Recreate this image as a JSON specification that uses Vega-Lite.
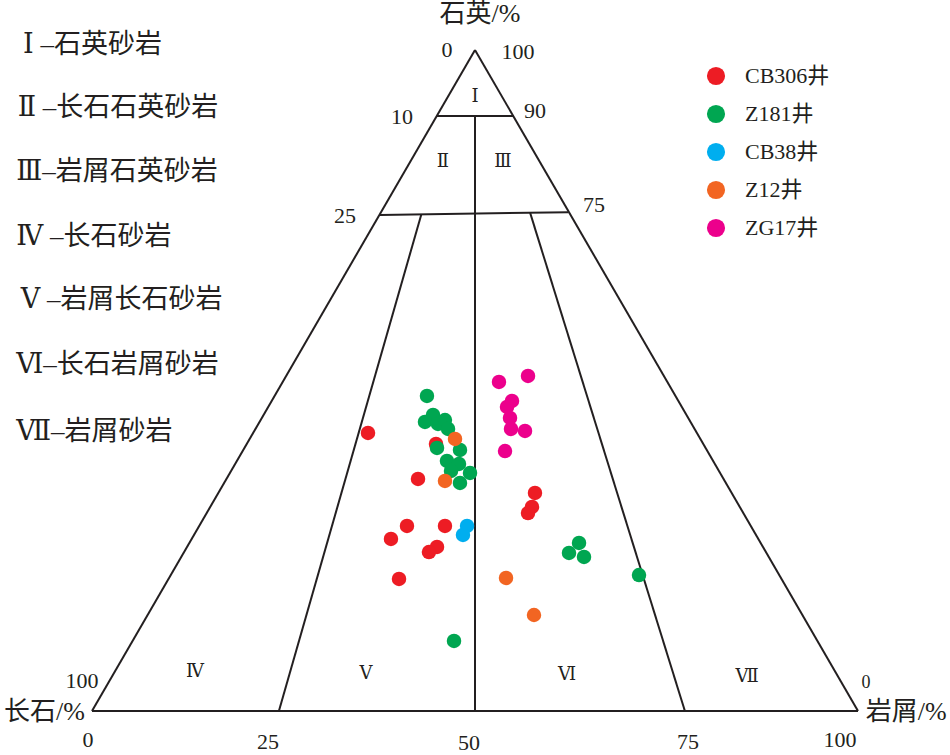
{
  "$schema": "https://vega.github.io/schema/vega-lite/v6.json",
  "width": 950,
  "height": 755,
  "autosize": "none",
  "padding": 0,
  "background": "white",
  "config": {"view": {"stroke": null}},
  "datasets": {
    "lines": [
      {"x": 0, "y": 0, "x2": 100, "y2": 0},
      {"x": 0, "y": 0, "x2": 50, "y2": 100},
      {"x": 100, "y": 0, "x2": 50, "y2": 100},
      {"x": 45, "y": 90, "x2": 55, "y2": 90},
      {"x": 37.6, "y": 75.05, "x2": 62.2, "y2": 75.45},
      {"x": 50, "y": 90, "x2": 50, "y2": 0},
      {"x": 43.0, "y": 75.15, "x2": 24.4, "y2": 0},
      {"x": 57.2, "y": 75.35, "x2": 77.4, "y2": 0}
    ],
    "points": [
      {"well": "CB306井", "x": 36.03, "y": 42.06},
      {"well": "CB306井", "x": 44.91, "y": 40.39},
      {"well": "CB306井", "x": 42.56, "y": 35.10},
      {"well": "CB306井", "x": 57.83, "y": 32.98},
      {"well": "CB306井", "x": 57.44, "y": 30.86},
      {"well": "CB306井", "x": 56.92, "y": 29.95},
      {"well": "CB306井", "x": 41.12, "y": 27.99},
      {"well": "CB306井", "x": 46.08, "y": 27.99},
      {"well": "CB306井", "x": 39.03, "y": 26.02},
      {"well": "CB306井", "x": 45.04, "y": 24.81},
      {"well": "CB306井", "x": 43.99, "y": 24.05},
      {"well": "CB306井", "x": 40.08, "y": 19.97},
      {"well": "Z181井", "x": 43.73, "y": 47.66},
      {"well": "Z181井", "x": 44.52, "y": 44.78},
      {"well": "Z181井", "x": 43.47, "y": 43.72},
      {"well": "Z181井", "x": 45.17, "y": 43.42},
      {"well": "Z181井", "x": 46.08, "y": 44.02},
      {"well": "Z181井", "x": 46.48, "y": 42.66},
      {"well": "Z181井", "x": 45.04, "y": 39.79},
      {"well": "Z181井", "x": 48.04, "y": 39.49},
      {"well": "Z181井", "x": 46.34, "y": 37.82},
      {"well": "Z181井", "x": 47.91, "y": 37.37},
      {"well": "Z181井", "x": 49.35, "y": 36.01},
      {"well": "Z181井", "x": 46.87, "y": 36.31},
      {"well": "Z181井", "x": 48.04, "y": 34.49},
      {"well": "Z181井", "x": 63.58, "y": 25.42},
      {"well": "Z181井", "x": 62.27, "y": 23.90},
      {"well": "Z181井", "x": 64.23, "y": 23.30},
      {"well": "Z181井", "x": 71.41, "y": 20.57},
      {"well": "Z181井", "x": 47.26, "y": 10.59},
      {"well": "CB38井", "x": 48.96, "y": 27.99},
      {"well": "CB38井", "x": 48.43, "y": 26.63},
      {"well": "Z12井", "x": 47.39, "y": 41.15},
      {"well": "Z12井", "x": 46.08, "y": 34.80},
      {"well": "Z12井", "x": 54.05, "y": 20.12},
      {"well": "Z12井", "x": 57.70, "y": 14.52},
      {"well": "ZG17井", "x": 53.13, "y": 49.77},
      {"well": "ZG17井", "x": 56.92, "y": 50.68},
      {"well": "ZG17井", "x": 54.83, "y": 46.90},
      {"well": "ZG17井", "x": 54.18, "y": 45.99},
      {"well": "ZG17井", "x": 54.57, "y": 44.33},
      {"well": "ZG17井", "x": 54.70, "y": 42.66},
      {"well": "ZG17井", "x": 56.53, "y": 42.36},
      {"well": "ZG17井", "x": 53.92, "y": 39.33}
    ],
    "classes": [
      {"label": "Ⅰ –石英砂岩", "x": -9.0, "y": 100.76},
      {"label": "Ⅱ –长石石英砂岩", "x": -9.7, "y": 91.22},
      {"label": "Ⅲ–岩屑石英砂岩", "x": -9.9, "y": 81.54},
      {"label": "Ⅳ –长石砂岩", "x": -9.9, "y": 71.71},
      {"label": "Ⅴ –岩屑长石砂岩", "x": -9.3, "y": 62.18},
      {"label": "Ⅵ–长石岩屑砂岩", "x": -9.9, "y": 52.34},
      {"label": "Ⅶ–岩屑砂岩", "x": -9.9, "y": 42.21}
    ],
    "regions": [
      {"label": "Ⅰ", "x": 50.0, "y": 92.89},
      {"label": "Ⅱ", "x": 45.82, "y": 83.06},
      {"label": "Ⅲ", "x": 53.66, "y": 83.06},
      {"label": "Ⅳ", "x": 13.45, "y": 5.90},
      {"label": "Ⅴ", "x": 35.77, "y": 5.60},
      {"label": "Ⅵ", "x": 62.01, "y": 5.45},
      {"label": "Ⅶ", "x": 85.51, "y": 5.14}
    ],
    "ticks": [
      {"label": "0", "x": 46.34, "y": 100.0},
      {"label": "100", "x": 55.61, "y": 99.7},
      {"label": "10", "x": 40.47, "y": 89.86},
      {"label": "90", "x": 57.83, "y": 90.77},
      {"label": "25", "x": 33.03, "y": 74.89},
      {"label": "75", "x": 65.54, "y": 76.55},
      {"label": "100", "x": -1.31, "y": 4.54},
      {"label": "0", "x": -0.52, "y": -4.39},
      {"label": "25", "x": 22.98, "y": -4.69},
      {"label": "50", "x": 49.22, "y": -4.84},
      {"label": "75", "x": 77.81, "y": -4.69},
      {"label": "100", "x": 97.65, "y": -4.39}
    ],
    "smallticks": [
      {"label": "0", "x": 101.04, "y": 4.24}
    ],
    "titles": [
      {"label": "石英/%", "x": 50.65, "y": 105.45},
      {"label": "长石/%", "x": -6.2, "y": -0.15},
      {"label": "岩屑/%", "x": 106.3, "y": -0.15}
    ]
  },
  "encoding": {
    "x": {"type": "quantitative", "scale": {"domain": [-12.01, 112.01], "nice": false, "zero": false}, "axis": null},
    "y": {"type": "quantitative", "scale": {"domain": [-6.66, 107.56], "nice": false, "zero": false}, "axis": null}
  },
  "layer": [
    {
      "data": {"name": "lines"},
      "mark": {"type": "rule", "color": "#231f20", "strokeWidth": 2},
      "encoding": {
        "x": {"field": "x", "type": "quantitative"},
        "y": {"field": "y", "type": "quantitative"},
        "x2": {"field": "x2"},
        "y2": {"field": "y2"}
      }
    },
    {
      "data": {"name": "points"},
      "mark": {"type": "circle", "size": 210, "opacity": 1},
      "encoding": {
        "x": {"field": "x", "type": "quantitative"},
        "y": {"field": "y", "type": "quantitative"},
        "color": {
          "field": "well",
          "type": "nominal",
          "scale": {
            "domain": ["CB306井", "Z181井", "CB38井", "Z12井", "ZG17井"],
            "range": ["#ed1c24", "#00a651", "#00aeef", "#f26522", "#ec008c"]
          },
          "legend": {
            "title": null,
            "orient": "none",
            "legendX": 705,
            "legendY": 65,
            "symbolType": "circle",
            "symbolSize": 330,
            "symbolStrokeWidth": 0,
            "symbolOpacity": 1,
            "labelFont": "Liberation Serif, Noto Sans CJK SC",
            "labelFontSize": 22,
            "labelColor": "#231f20",
            "labelOffset": 18,
            "rowPadding": 16
          }
        }
      }
    },
    {
      "data": {"name": "classes"},
      "mark": {"type": "text", "align": "left", "baseline": "middle", "fontSize": 27, "font": "Liberation Serif, DejaVu Serif, Noto Sans CJK SC", "color": "#231f20"},
      "encoding": {
        "x": {"field": "x", "type": "quantitative"},
        "y": {"field": "y", "type": "quantitative"},
        "text": {"field": "label"}
      }
    },
    {
      "data": {"name": "regions"},
      "mark": {"type": "text", "align": "center", "baseline": "middle", "fontSize": 18, "font": "Liberation Serif, DejaVu Serif, Noto Sans CJK SC", "color": "#231f20"},
      "encoding": {
        "x": {"field": "x", "type": "quantitative"},
        "y": {"field": "y", "type": "quantitative"},
        "text": {"field": "label"}
      }
    },
    {
      "data": {"name": "ticks"},
      "mark": {"type": "text", "align": "center", "baseline": "middle", "fontSize": 22, "font": "Liberation Serif", "color": "#231f20"},
      "encoding": {
        "x": {"field": "x", "type": "quantitative"},
        "y": {"field": "y", "type": "quantitative"},
        "text": {"field": "label"}
      }
    },
    {
      "data": {"name": "smallticks"},
      "mark": {"type": "text", "align": "center", "baseline": "middle", "fontSize": 18, "font": "Liberation Serif", "color": "#231f20"},
      "encoding": {
        "x": {"field": "x", "type": "quantitative"},
        "y": {"field": "y", "type": "quantitative"},
        "text": {"field": "label"}
      }
    },
    {
      "data": {"name": "titles"},
      "mark": {"type": "text", "align": "center", "baseline": "middle", "fontSize": 26, "font": "Liberation Serif, Noto Sans CJK SC", "color": "#231f20"},
      "encoding": {
        "x": {"field": "x", "type": "quantitative"},
        "y": {"field": "y", "type": "quantitative"},
        "text": {"field": "label"}
      }
    }
  ]
}
